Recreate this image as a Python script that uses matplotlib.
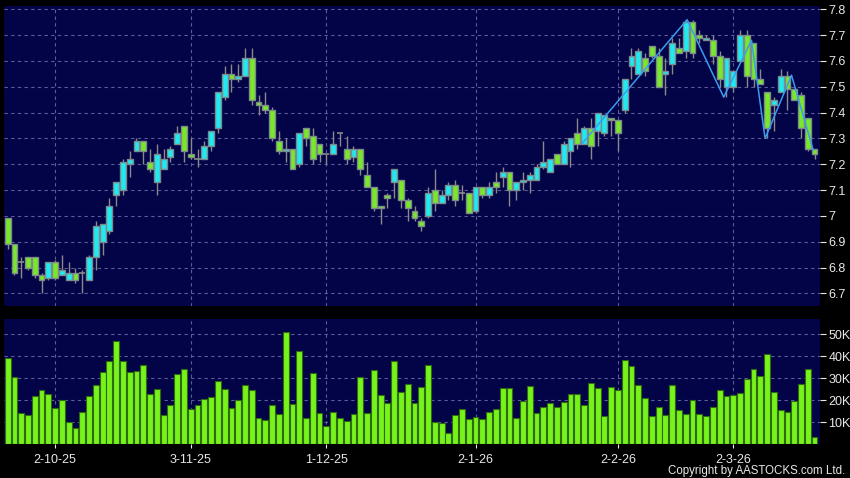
import matplotlib
matplotlib.use("Agg")
import matplotlib.pyplot as plt

# --- data ---
opens = [6.99, 6.89, 6.82, 6.84, 6.84, 6.77, 6.76, 6.82, 6.77, 6.75,
         6.78, 6.78, 6.75, 6.84, 6.90, 6.94, 7.08, 7.10, 7.20, 7.25,
         7.29, 7.21, 7.13, 7.18, 7.23, 7.28, 7.35, 7.24, 7.22, 7.22,
         7.27, 7.34, 7.46, 7.55, 7.53, 7.54, 7.61, 7.44, 7.43, 7.41,
         7.29, 7.25, 7.26, 7.20, 7.34, 7.31, 7.28, 7.24, 7.24, 7.32,
         7.26, 7.23, 7.26, 7.16, 7.11, 7.04, 7.08, 7.13, 7.14, 7.06,
         7.02, 6.98, 7.00, 7.10, 7.05, 7.08, 7.12, 7.09, 7.09, 7.02,
         7.11, 7.08, 7.13, 7.15, 7.17, 7.10, 7.13, 7.14, 7.14, 7.19,
         7.17, 7.24, 7.20, 7.25, 7.32, 7.28, 7.34, 7.33, 7.32, 7.38,
         7.37, 7.41, 7.58, 7.55, 7.61, 7.66, 7.62, 7.55, 7.59, 7.65,
         7.64, 7.75, 7.70, 7.68, 7.68, 7.62, 7.50, 7.50, 7.60, 7.70,
         7.67, 7.53, 7.48, 7.43, 7.48, 7.54, 7.49, 7.47, 7.38, 7.26]
highs = [6.99, 6.89, 6.84, 6.84, 6.84, 6.78, 6.82, 6.83, 6.85, 6.82,
         6.80, 6.79, 6.85, 6.98, 6.97, 7.07, 7.13, 7.22, 7.25, 7.30,
         7.29, 7.26, 7.28, 7.26, 7.27, 7.35, 7.35, 7.30, 7.26, 7.29,
         7.33, 7.48, 7.58, 7.59, 7.59, 7.65, 7.65, 7.47, 7.48, 7.42,
         7.33, 7.30, 7.26, 7.32, 7.34, 7.34, 7.28, 7.24, 7.33, 7.32,
         7.31, 7.27, 7.26, 7.21, 7.11, 7.04, 7.09, 7.18, 7.14, 7.07,
         7.04, 6.99, 7.11, 7.18, 7.10, 7.13, 7.14, 7.12, 7.09, 7.11,
         7.11, 7.13, 7.17, 7.19, 7.17, 7.13, 7.17, 7.17, 7.20, 7.29,
         7.22, 7.24, 7.29, 7.30, 7.38, 7.35, 7.38, 7.40, 7.39, 7.38,
         7.37, 7.53, 7.65, 7.65, 7.63, 7.66, 7.65, 7.61, 7.69, 7.69,
         7.76, 7.76, 7.72, 7.70, 7.70, 7.64, 7.61, 7.56, 7.72, 7.72,
         7.67, 7.57, 7.48, 7.46, 7.57, 7.56, 7.49, 7.48, 7.38, 7.26]
lows = [6.87, 6.77, 6.76, 6.79, 6.76, 6.70, 6.75, 6.75, 6.77, 6.75,
        6.74, 6.70, 6.75, 6.79, 6.85, 6.93, 7.04, 7.08, 7.15, 7.25,
        7.20, 7.17, 7.08, 7.18, 7.21, 7.28, 7.21, 7.22, 7.19, 7.22,
        7.25, 7.32, 7.45, 7.48, 7.52, 7.54, 7.43, 7.39, 7.40, 7.29,
        7.24, 7.21, 7.18, 7.19, 7.27, 7.20, 7.21, 7.20, 7.24, 7.27,
        7.20, 7.21, 7.16, 7.11, 7.02, 6.97, 7.03, 7.07, 7.03, 6.98,
        6.98, 6.94, 6.99, 7.02, 7.05, 7.06, 7.04, 7.06, 7.01, 7.01,
        7.07, 7.07, 7.09, 7.11, 7.04, 7.06, 7.10, 7.09, 7.14, 7.18,
        7.17, 7.20, 7.20, 7.19, 7.26, 7.28, 7.22, 7.27, 7.31, 7.31,
        7.25, 7.40, 7.53, 7.55, 7.54, 7.61, 7.50, 7.47, 7.55, 7.63,
        7.61, 7.61, 7.67, 7.68, 7.59, 7.50, 7.46, 7.48, 7.60, 7.50,
        7.50, 7.51, 7.30, 7.33, 7.48, 7.41, 7.45, 7.30, 7.25, 7.22]
closes = [6.89, 6.78, 6.82, 6.80, 6.77, 6.75, 6.82, 6.76, 6.79, 6.78,
          6.75, 6.78, 6.84, 6.96, 6.97, 7.04, 7.13, 7.21, 7.22, 7.29,
          7.25, 7.18, 7.24, 7.22, 7.26, 7.32, 7.25, 7.23, 7.22, 7.27,
          7.33, 7.48, 7.55, 7.53, 7.54, 7.61, 7.45, 7.43, 7.41, 7.30,
          7.25, 7.26, 7.18, 7.32, 7.30, 7.22, 7.24, 7.24, 7.28, 7.32,
          7.22, 7.26, 7.18, 7.11, 7.03, 7.03, 7.07, 7.18, 7.06, 7.03,
          6.99, 6.96, 7.09, 7.05, 7.08, 7.12, 7.06, 7.09, 7.01, 7.11,
          7.08, 7.11, 7.11, 7.17, 7.10, 7.13, 7.14, 7.16, 7.19, 7.21,
          7.22, 7.20, 7.28, 7.30, 7.28, 7.34, 7.27, 7.40, 7.39, 7.37,
          7.32, 7.53, 7.62, 7.64, 7.56, 7.62, 7.50, 7.56, 7.67, 7.63,
          7.75, 7.63, 7.69, 7.69, 7.62, 7.53, 7.61, 7.56, 7.70, 7.54,
          7.53, 7.51, 7.34, 7.45, 7.54, 7.49, 7.45, 7.34, 7.26, 7.24]
volumes_k = [39, 30.6, 14.2, 13.3, 22, 24.4, 22.6, 16.4, 20.2, 10,
             7.3, 14.8, 22, 27, 32.7, 37.7, 47, 37.7, 32.7, 33.2,
             35.8, 22.7, 25.3, 13.3, 18, 31.8, 34.2, 16.1, 18, 20.3,
             21.5, 28.8, 25.2, 16.2, 20, 27.1, 24.8, 12, 10.9, 17.6,
             13.9, 51, 18.2, 42.6, 11.8, 32.6, 14.1, 8.3, 14.7, 12,
             10.6, 13.5, 30.6, 14.2, 33.8, 22.4, 18.9, 38, 23.6, 27.3,
             18.6, 25.8, 35.9, 10, 9.4, 5, 13, 15.9, 11.5, 12.1,
             11.2, 14.7, 16.1, 25.6, 25.6, 11.8, 19.4, 26.4, 14.2, 17.1,
             18.6, 16.7, 19.2, 22.6, 23, 17.6, 28, 25.5, 12.6, 25.8,
             24.8, 38.2, 35.6, 27.1, 20.9, 12.9, 17, 13, 27.1, 15.5,
             13.5, 20, 13.8, 12.6, 17.1, 24.7, 21.8, 22.4, 23.2, 29.7,
             34.2, 30.8, 41.2, 23.9, 15.6, 14.7, 19.4, 27.3, 34.2, 3]
volumes = [v * 1000 for v in volumes_k]

# zigzag indicator (bar index, price)
zigzag_x = [84.7, 100.2, 105.6, 109.7, 111.7, 115.6, 118.8]
zigzag_y = [7.28, 7.76, 7.46, 7.68, 7.30, 7.545, 7.255]

date_ticks = [7, 27, 47, 69, 90, 107]
date_labels = ['2-10-25', '3-11-25', '1-12-25', '2-1-26', '2-2-26', '2-3-26']
price_ticks = [6.7, 6.8, 6.9, 7.0, 7.1, 7.2, 7.3, 7.4, 7.5, 7.6, 7.7, 7.8]
vol_ticks = [10000, 20000, 30000, 40000, 50000]

# --- style ---
BG = '#000000'
PANEL = '#030348'
UP = '#22e8f0'
DOWN = '#7ae82a'
VOLC = '#77f21a'
EDGE = '#7d8a8c'
GRID = '#5c5c96'
TXT = '#e8e8e8'
plt.rcParams['font.family'] = ['Liberation Sans', 'DejaVu Sans']

fig = plt.figure(figsize=(8.5, 4.78), dpi=100, facecolor=BG)
W, H = 850, 478
ax = fig.add_axes([4 / W, 1 - 306 / H, 816 / W, 300 / H])
axv = fig.add_axes([4 / W, 1 - 444 / H, 816 / W, 125 / H])

xs = list(range(len(opens)))
for a in (ax, axv):
    a.set_facecolor(PANEL)
    for s in a.spines.values():
        s.set_visible(False)
    a.set_xlim(-0.54, 119.8)
    a.set_xticks(date_ticks)
    a.grid(True, color=GRID, linestyle=(0, (3, 3)), linewidth=0.8)
    a.set_axisbelow(True)
    a.yaxis.tick_right()
    a.tick_params(axis='y', colors=TXT, labelcolor=TXT, length=4, width=0.8,
                  pad=2, labelsize=9)
    a.tick_params(axis='x', colors=TXT, labelcolor=TXT, length=3, width=0.8,
                  pad=4, labelsize=9)

# candles: wicks, then bodies
ax.vlines(xs, lows, highs, color='#8a8a8a', linewidth=1, zorder=2)
for i in xs:
    o, c = opens[i], closes[i]
    if abs(c - o) < 0.001:
        ax.hlines(o, i - 0.45, i + 0.45, color='#8a8a8a', linewidth=1.2, zorder=3)
        continue
    col = UP if c > o else DOWN
    ax.bar(i, abs(c - o), bottom=min(o, c), width=0.86, color=col,
           edgecolor=EDGE, linewidth=1, zorder=3)

ax.plot(zigzag_x, zigzag_y, color='#3a9cf0', linewidth=1.1, zorder=4)

ax.set_ylim(6.651, 7.813)
ax.set_yticks(price_ticks)
ax.set_yticklabels(['%g' % p for p in price_ticks])
ax.set_xticklabels([])
ax.tick_params(axis='x', length=0)

axv.bar(xs, volumes, width=0.86, color=VOLC, edgecolor='#2e6a10',
        linewidth=0.8, zorder=3)
axv.set_ylim(0, 57000)
axv.set_yticks(vol_ticks)
axv.set_yticklabels(['%dK' % (v // 1000) for v in vol_ticks])
axv.set_xticklabels(date_labels)

fig.text(845 / W, 1 - 471 / H, 'Copyright by AASTOCKS.com Ltd.', color=TXT,
         fontsize=8.3, ha='right', va='center')

fig.savefig('out.png', dpi=100, facecolor=BG)
